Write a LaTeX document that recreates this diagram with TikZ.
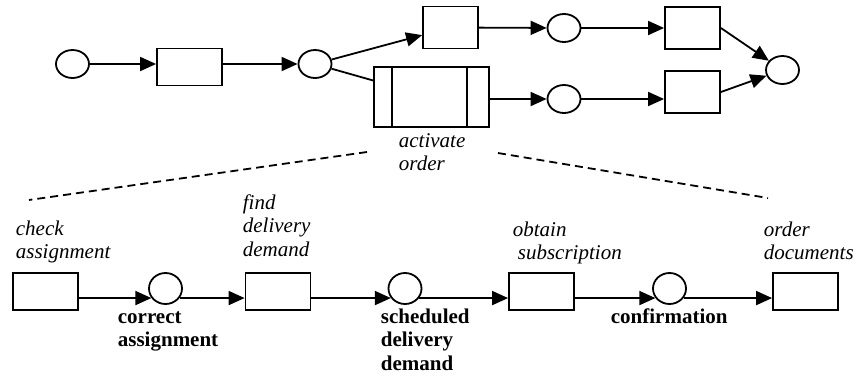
\documentclass[tikz,border=0pt]{standalone}
\usepackage{fontspec}
\setmainfont{Liberation Serif}
\usetikzlibrary{arrows.meta,shapes.geometric}

\newcommand\lblsize{\fontsize{21bp}{23.5bp}\selectfont}

\tikzset{
  place/.style={draw,ellipse,minimum width=33bp,minimum height=28bp,inner sep=0pt},
  bplace/.style={place,minimum height=31bp},
  trans/.style={draw,rectangle,minimum width=55bp,minimum height=42bp,inner sep=0pt},
  wtrans/.style={draw,rectangle,minimum width=65bp,minimum height=37bp,inner sep=0pt},
  subproc/.style={draw,rectangle,minimum width=115bp,minimum height=60bp,inner sep=0pt},
  flow/.style={-{Triangle[length=16bp,width=14bp]}},
  zoomline/.style={dashed,dash pattern=on 8bp off 5bp},
  tlbl/.style={inner sep=0pt,align=left,anchor=base west,font=\lblsize\itshape},
  slbl/.style={inner sep=0pt,align=left,anchor=base west,font=\lblsize\bfseries}
}

\begin{document}
\begin{tikzpicture}[x=1bp,y=-1bp,line width=1.8bp]
	\useasboundingbox (0,0) rectangle (856,379);
	% top net
	\node[place] (start) at (72.5,64) {};
	\node[wtrans] (t1) at (189.5,67) {};
	\node[place] (split) at (315,64) {};
	\node[trans] (t2) at (450.5,27.5) {};
	\node[subproc] (act) at (431.5,97) {};
	\node[place] (p3) at (564,28) {};
	\node[place] (p4) at (564,99) {};
	\node[trans] (t3) at (692.5,28) {};
	\node[trans] (t4) at (692.5,92) {};
	\node[place] (end) at (782.5,70) {};
	\draw ([xshift=19bp]act.north west) -- ([xshift=19bp]act.south west);
	\draw ([xshift=-23bp]act.north east) -- ([xshift=-23bp]act.south east);
	\node[tlbl] (actlbl) at (398,170.5) {activate\\order};

	\draw[flow] (start) -- (start -| t1.west);
	\draw[flow] (split -| t1.east) -- (split);
	\draw[flow] (split) -- (t2);
	\draw (split) -- (act);
	\draw[flow] (t2) -- (p3);
	\draw[flow] (p3) -- (t3);
	\draw[flow] (act.east |- p4) -- (p4);
	\draw[flow] (p4) -- (p4 -| t4.west);
	\draw[flow] (t3.east) -- (end);
	\draw[flow] (t4.east) -- (end);

	% refinement
	\coordinate (dl1) at (367,152);
	\coordinate (dl2) at (29,200);
	\coordinate (dr1) at (498,153);
	\coordinate (dr2) at (768,198);
	\draw[zoomline] (dl1) -- (dl2);
	\draw[zoomline] (dr1) -- (dr2);

	\node[wtrans] (check) at (45.5,291.5) {};
	\node[bplace] (correct) at (165.5,288.5) {};
	\node[wtrans] (find) at (278,291.5) {};
	\node[bplace] (sched) at (405,288.5) {};
	\node[wtrans] (obtain) at (541.5,291.5) {};
	\node[bplace] (confirm) at (669.5,288.5) {};
	\node[wtrans] (order) at (805.5,291.5) {};

	\draw[flow] (check.east |- correct.214) -- (correct.214);
	\draw[flow] (correct.326) -- (find.west |- correct.326);
	\draw[flow] (find.east |- sched.214) -- (sched.214);
	\draw[flow] (sched.326) -- (obtain.west |- sched.326);
	\draw[flow] (obtain.east |- confirm.214) -- (confirm.214);
	\draw[flow] (confirm.326) -- (order.west |- confirm.326);

	\node[tlbl] (checklbl) at (15,258.5) {check\\assignment};
	\node[tlbl] (findlbl) at (242,256) {find\\delivery\\demand};
	\node[tlbl] (obtainlbl) at (512,259.5) {obtain\\\hspace{5bp}subscription};
	\node[tlbl] (orderlbl) at (763,259.5) {order\\documents};
	\node[slbl] (correctlbl) at (117,346.5) {correct\\assignment};
	\node[slbl] (schedlbl) at (380,370) {scheduled\\delivery\\demand};
	\node[slbl] (confirmlbl) at (610,323) {confirmation};
\end{tikzpicture}
\end{document}
